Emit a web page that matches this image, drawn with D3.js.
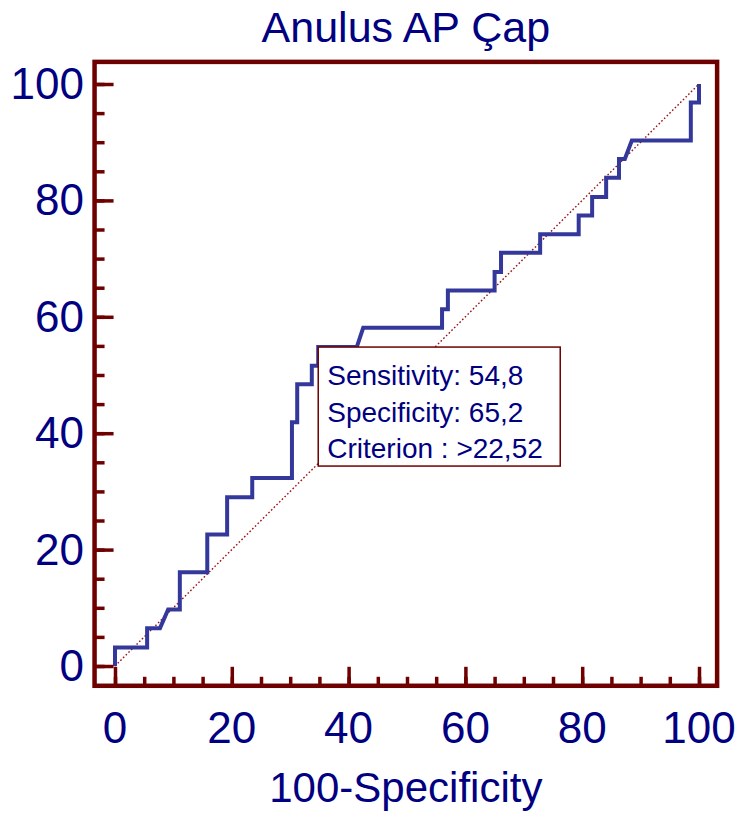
<!DOCTYPE html>
<html>
<head>
<meta charset="utf-8">
<script src="https://cdn.jsdelivr.net/npm/d3@7"></script>
<style>
  body { margin: 0; background: #fff; }
  svg { display: block; }
  text { font-family: "Liberation Sans", Arial, sans-serif; fill: #000080; }
</style>
</head>
<body>
<svg id="chart" width="737" height="814"></svg>
<script>
// ROC curve for "Anulus AP Çap": false-positive rate (100-Specificity) vs sensitivity, in %
const chartTitle = "Anulus AP Çap";
const xAxisTitle = "100-Specificity";

const fpr = [0, 0, 5.5, 5.5, 7.7, 9.1, 11.1, 11.1, 15.8, 15.8, 19.2, 19.2, 23.5, 23.5,
  30.3, 30.3, 31.2, 31.2, 33.7, 33.7, 34.8, 34.8, 41.4, 42.5, 56.0, 56.0, 57.0, 57.0,
  65.0, 65.0, 66.1, 66.1, 72.8, 72.8, 79.4, 79.4, 81.7, 81.7, 84.1, 84.1, 86.3, 86.3,
  87.3, 88.5, 98.6, 98.6, 100, 100];
const sensitivity = [0, 3.2, 3.2, 6.5, 6.5, 9.7, 9.7, 16.1, 16.1, 22.6, 22.6, 29.0, 29.0, 32.3,
  32.3, 41.9, 41.9, 48.4, 48.4, 51.6, 51.6, 54.8, 54.8, 58.1, 58.1, 61.3, 61.3, 64.5,
  64.5, 67.7, 67.7, 71.0, 71.0, 74.2, 74.2, 77.4, 77.4, 80.6, 80.6, 83.9, 83.9, 87.1,
  87.1, 90.3, 90.3, 96.8, 96.8, 100];

const majorTicks = [0, 20, 40, 60, 80, 100];
const minorTicks = [0, 5, 10, 15, 20, 25, 30, 35, 40, 45, 50, 55, 60, 65, 70, 75, 80, 85, 90, 95, 100];

// Optimal criterion point and its summary
const criterionFpr = 34.8;
const criterionSens = 54.8;
const criterionLines = ["Sensitivity: 54,8", "Specificity: 65,2", "Criterion : >22,52"];

const frameColor = "#6e0000";
const curveColor = "#34389a";

const svg = d3.select("#chart");
const x = d3.scaleLinear().domain([0, 100]).range([115, 699]);
const y = d3.scaleLinear().domain([0, 100]).range([666, 84]);

// plot frame extends slightly beyond the 0..100 range
const fx0 = x(-3.5), fx1 = x(103.1), fy0 = y(-3.4), fy1 = y(103.8);

// title
svg.append("text")
  .attr("x", (fx0 + fx1) / 2).attr("y", 42)
  .attr("text-anchor", "middle")
  .style("font-size", "43px")
  .text(chartTitle);

// diagonal reference line
svg.append("line")
  .attr("x1", x(0)).attr("y1", y(0)).attr("x2", x(100)).attr("y2", y(100))
  .attr("stroke", "#9a1010").attr("stroke-width", 1.4)
  .attr("stroke-dasharray", "1.6,2.2");

// ROC curve
const line = d3.line().x(d => x(d[0])).y(d => y(d[1]));
svg.append("path")
  .datum(d3.zip(fpr, sensitivity))
  .attr("d", line)
  .attr("fill", "none")
  .attr("stroke", curveColor)
  .attr("stroke-width", 4)
  .attr("stroke-linejoin", "miter");

// ticks on the frame, pointing inward
function styleTicks(g) {
  g.select(".domain").remove();
  g.selectAll(".tick line").attr("stroke", frameColor).attr("stroke-width", 3.5);
  g.selectAll(".tick text").remove();
}
svg.append("g").attr("transform", `translate(0,${fy0})`)
  .call(d3.axisBottom(x).tickValues(minorTicks).tickSize(-9)).call(styleTicks);
svg.append("g").attr("transform", `translate(0,${fy0})`)
  .call(d3.axisBottom(x).tickValues(majorTicks).tickSize(-19)).call(styleTicks);
svg.append("g").attr("transform", `translate(${fx0},0)`)
  .call(d3.axisLeft(y).tickValues(minorTicks).tickSize(-10)).call(styleTicks);
svg.append("g").attr("transform", `translate(${fx0},0)`)
  .call(d3.axisLeft(y).tickValues(majorTicks).tickSize(-19)).call(styleTicks);

// frame
svg.append("rect")
  .attr("x", fx0).attr("y", fy1)
  .attr("width", fx1 - fx0).attr("height", fy0 - fy1)
  .attr("fill", "none").attr("stroke", frameColor).attr("stroke-width", 4.5);

// tick labels
svg.append("g").selectAll("text").data(majorTicks).join("text")
  .attr("x", d => x(d)).attr("y", 743)
  .attr("text-anchor", "middle")
  .style("font-size", "44px")
  .text(d => d);
svg.append("g").selectAll("text").data(majorTicks).join("text")
  .attr("x", 84).attr("y", d => y(d) + 15)
  .attr("text-anchor", "end")
  .style("font-size", "44px")
  .text(d => d);

// x axis title
svg.append("text")
  .attr("x", (fx0 + fx1) / 2).attr("y", 802)
  .attr("text-anchor", "middle")
  .style("font-size", "42px")
  .text(xAxisTitle);

// criterion box
const bx = x(criterionFpr), by = y(criterionSens);
const box = svg.append("g").attr("transform", `translate(${bx},${by})`);
box.append("rect")
  .attr("width", 242).attr("height", 119)
  .attr("fill", "#fff").attr("stroke", frameColor).attr("stroke-width", 1.5);
box.selectAll("text").data(criterionLines).join("text")
  .attr("x", 9).attr("y", (d, i) => 38 + i * 36.5)
  .style("font-size", "28px")
  .text(d => d);
</script>
</body>
</html>
